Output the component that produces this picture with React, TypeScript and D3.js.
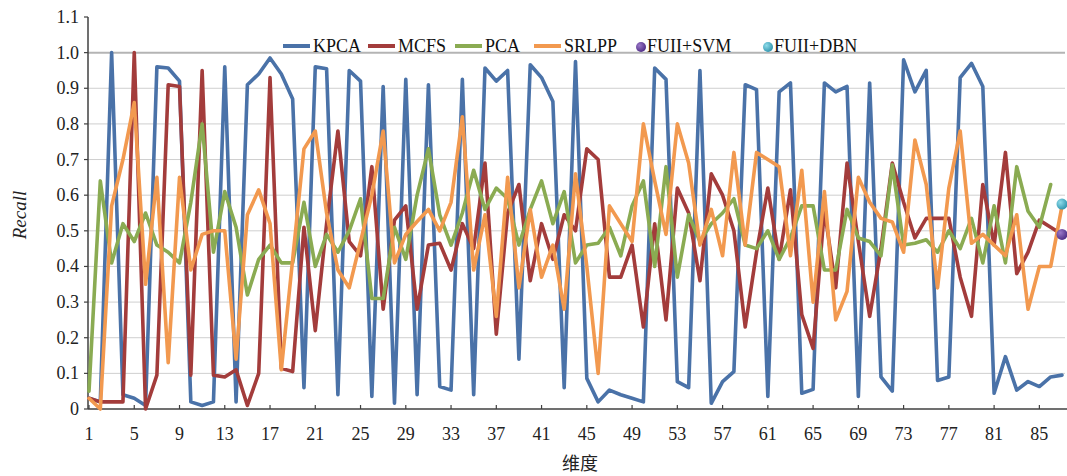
import React from "react";
import * as d3 from "d3";

const categories: number[] = d3.range(1, 88);
const xTickLabels: number[] = [1, 5, 9, 13, 17, 21, 25, 29, 33, 37, 41, 45, 49, 53, 57, 61, 65, 69, 73, 77, 81, 85];
const yTicks: number[] = [0, 0.1, 0.2, 0.3, 0.4, 0.5, 0.6, 0.7, 0.8, 0.9, 1.0, 1.1];

const kpca: number[] = [
  0.03, 0.02, 1.0, 0.04, 0.03, 0.01, 0.96, 0.957, 0.92, 0.02,
  0.01, 0.02, 0.96, 0.02, 0.91, 0.94, 0.985, 0.94, 0.87, 0.06,
  0.96, 0.955, 0.04, 0.95, 0.92, 0.035, 0.905, 0.016, 0.925, 0.04,
  0.91, 0.063, 0.053, 0.925, 0.04, 0.957, 0.92, 0.95, 0.14, 0.966,
  0.93, 0.863, 0.06, 0.975, 0.086, 0.02, 0.053, 0.04, 0.03, 0.02,
  0.957, 0.925, 0.077, 0.06, 0.95, 0.016, 0.077, 0.105, 0.91, 0.896,
  0.035, 0.89, 0.915, 0.044, 0.055, 0.915, 0.89, 0.905, 0.035, 0.915,
  0.09, 0.05, 0.98, 0.89, 0.95, 0.08, 0.09, 0.93, 0.97, 0.905,
  0.044, 0.147, 0.053, 0.077, 0.063, 0.09, 0.095,
];
const mcfs: number[] = [
  0.03, 0.02, 0.02, 0.02, 1.0, 0.0, 0.095, 0.91, 0.905, 0.095,
  0.95, 0.095, 0.09, 0.11, 0.01, 0.1, 0.93, 0.114, 0.105, 0.51,
  0.22, 0.52, 0.78, 0.47, 0.43, 0.68, 0.28, 0.53, 0.57, 0.28,
  0.46, 0.465, 0.39, 0.52, 0.45, 0.69, 0.21, 0.55, 0.63, 0.36,
  0.52, 0.42, 0.545, 0.5, 0.73, 0.7, 0.37, 0.37, 0.46, 0.23,
  0.52, 0.25, 0.62, 0.55, 0.36, 0.66, 0.6, 0.5, 0.23, 0.44,
  0.62, 0.42, 0.615, 0.265, 0.17, 0.56, 0.34, 0.69, 0.47, 0.26,
  0.45, 0.69, 0.58, 0.48, 0.535, 0.535, 0.535, 0.37, 0.26, 0.63,
  0.46, 0.72, 0.38, 0.44, 0.53, 0.51, 0.49,
];
const pca: number[] = [
  0.05, 0.64, 0.41, 0.52, 0.47, 0.55, 0.46, 0.44, 0.41, 0.58,
  0.8, 0.44, 0.61, 0.51, 0.32, 0.42, 0.46, 0.41, 0.41, 0.58,
  0.4, 0.49, 0.44, 0.5, 0.59, 0.31, 0.31, 0.51, 0.42, 0.6,
  0.73, 0.545, 0.46, 0.55, 0.67, 0.56, 0.62, 0.59, 0.46, 0.56,
  0.64, 0.52, 0.61, 0.41, 0.46, 0.465, 0.51, 0.43, 0.57, 0.64,
  0.4, 0.68, 0.37, 0.545, 0.47, 0.52, 0.55, 0.59, 0.46, 0.45,
  0.5, 0.42, 0.48, 0.57, 0.57, 0.39, 0.39, 0.56, 0.48, 0.47,
  0.43, 0.685, 0.46, 0.465, 0.475, 0.44, 0.5, 0.45, 0.535, 0.41,
  0.57, 0.41, 0.68, 0.555, 0.51, 0.63,
];
const srlpp: number[] = [
  0.03, 0.0, 0.57, 0.7, 0.86, 0.35, 0.65, 0.13, 0.65, 0.39,
  0.49, 0.5, 0.5, 0.14, 0.545, 0.615, 0.52, 0.11, 0.42, 0.73,
  0.78, 0.55, 0.39, 0.34, 0.47, 0.6, 0.78, 0.41, 0.49, 0.526,
  0.56, 0.5, 0.58, 0.82, 0.39, 0.545, 0.26, 0.65, 0.34, 0.56,
  0.37, 0.46, 0.28, 0.66, 0.4, 0.1, 0.57, 0.52, 0.47, 0.8,
  0.64, 0.49, 0.8, 0.69, 0.46, 0.56, 0.43, 0.72, 0.46, 0.72,
  0.7, 0.68, 0.43, 0.67, 0.3, 0.61, 0.25, 0.33, 0.65, 0.58,
  0.535, 0.525, 0.44, 0.755, 0.63, 0.34, 0.62, 0.78, 0.465, 0.49,
  0.46, 0.43, 0.545, 0.28, 0.4, 0.4, 0.57,
];
const fuiiSvm: [number, number][] = [[87, 0.49]];
const fuiiDbn: [number, number][] = [[87, 0.575]];

const seriesNames = ["KPCA", "MCFS", "PCA", "SRLPP"];
const seriesData = [kpca, mcfs, pca, srlpp];
const colors = ["#4a72a8", "#a33c3b", "#8aab52", "#f2994f"];

const W = 1067;
const H = 476;
const left = 88;
const right = 1065;
const top = 17;
const bottom = 409;

export default function App() {
  const x = d3.scaleLinear().domain([1, 87]).range([89, 1062]);
  const y = d3.scaleLinear().domain([0, 1.1]).range([bottom, top]);
  const line = d3
    .line<number>()
    .x((_, i) => x(categories[i]))
    .y((d) => y(d));
  const font = "'Liberation Serif', 'Times New Roman', serif";

  const legendItems = [
    { type: "line", color: colors[0], label: "KPCA", sx: 283, tx: 313 },
    { type: "line", color: colors[1], label: "MCFS", sx: 368, tx: 398 },
    { type: "line", color: colors[2], label: "PCA", sx: 455, tx: 485 },
    { type: "line", color: colors[3], label: "SRLPP", sx: 534, tx: 564 },
    { type: "dot", color: "url(#gSvm)", label: "FUII+SVM", sx: 641, tx: 647 },
    { type: "dot", color: "url(#gDbn)", label: "FUII+DBN", sx: 768, tx: 774 },
  ];

  return (
    <svg
      width={W}
      height={H}
      style={{ position: "absolute", left: 0, top: 0, background: "#fff" }}
      fontFamily={font}
    >
      <defs>
        <radialGradient id="gSvm" cx="35%" cy="35%" r="70%">
          <stop offset="0%" stopColor="#9a78c8" />
          <stop offset="100%" stopColor="#4e2b85" />
        </radialGradient>
        <radialGradient id="gDbn" cx="35%" cy="35%" r="70%">
          <stop offset="0%" stopColor="#8fdcea" />
          <stop offset="100%" stopColor="#2e93ad" />
        </radialGradient>
      </defs>

      {/* gridlines */}
      {yTicks
        .filter((t) => t > 0 && t < 1.05)
        .map((t) => (
          <line
            key={"g" + t}
            x1={left}
            x2={right}
            y1={y(t)}
            y2={y(t)}
            stroke={t > 0.95 ? "#b4b4b4" : "#cfcfcf"}
            strokeWidth={t > 0.95 ? 2 : 1}
          />
        ))}

      {/* y axis */}
      <line x1={left} x2={left} y1={top} y2={bottom} stroke="#404040" strokeWidth={1.5} />
      {yTicks.map((t) => (
        <g key={"yt" + t}>
          <line x1={left - 4} x2={left} y1={y(t)} y2={y(t)} stroke="#404040" strokeWidth={1.2} />
          <text x={79} y={y(t) + 6} textAnchor="end" fontSize={18} fill="#222">
            {t === 0 ? "0" : t.toFixed(1)}
          </text>
        </g>
      ))}

      {/* x axis */}
      <line x1={left} x2={W} y1={bottom} y2={bottom} stroke="#404040" strokeWidth={1.5} />
      {xTickLabels.map((c) => (
        <g key={"xt" + c}>
          <line x1={x(c)} x2={x(c)} y1={bottom} y2={bottom - 4} stroke="#404040" strokeWidth={1.2} />
          <text x={x(c)} y={440} textAnchor="middle" fontSize={18} fill="#222">
            {c}
          </text>
        </g>
      ))}

      {/* series */}
      {seriesData.map((s, i) => (
        <path
          key={seriesNames[i]}
          d={line(s) || ""}
          fill="none"
          stroke={colors[i]}
          strokeWidth={3.6}
          strokeLinejoin="round"
          strokeLinecap="round"
        />
      ))}

      {fuiiSvm.map(([c, v]) => (
        <circle key="svm" cx={x(c)} cy={y(v)} r={5.5} fill="url(#gSvm)" />
      ))}
      {fuiiDbn.map(([c, v]) => (
        <circle key="dbn" cx={x(c)} cy={y(v)} r={5.5} fill="url(#gDbn)" />
      ))}

      {/* legend */}
      {legendItems.map((it) => (
        <g key={it.label}>
          {it.type === "line" ? (
            <line x1={it.sx} x2={it.sx + 27} y1={46} y2={46} stroke={it.color} strokeWidth={4} />
          ) : (
            <circle cx={it.sx} cy={47} r={5} fill={it.color} />
          )}
          <text x={it.tx} y={52} fontSize={18} fill="#111">
            {it.label}
          </text>
        </g>
      ))}

      {/* axis titles */}
      <text
        transform={`translate(26, 215) rotate(-90)`}
        textAnchor="middle"
        fontSize={19}
        fontStyle="italic"
        fill="#222"
      >
        Recall
      </text>
      <text
        x={580}
        y={470}
        textAnchor="middle"
        fontSize={18}
        fontFamily="'Noto Sans CJK SC', sans-serif"
        fill="#222"
      >
        维度
      </text>
    </svg>
  );
}
